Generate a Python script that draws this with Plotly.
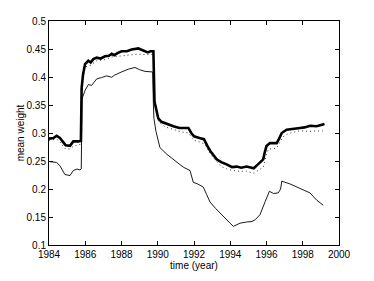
import plotly.graph_objs as go

# thick solid series
t_thick = [1984.0, 1984.25, 1984.42, 1984.6, 1984.75, 1984.92, 1985.16, 1985.34, 1985.62, 1985.76,
           1985.80, 1985.88, 1985.99, 1986.17, 1986.3, 1986.45, 1986.63, 1986.85, 1987.09, 1987.3,
           1987.46, 1987.6, 1987.8, 1988.01, 1988.3, 1988.56, 1988.93, 1989.2, 1989.45, 1989.6,
           1989.76, 1989.82, 1990.03, 1990.2, 1990.4, 1990.6, 1990.86, 1991.2, 1991.5, 1991.69,
           1991.85, 1992.0, 1992.3, 1992.55, 1992.75, 1992.9, 1993.25, 1993.5, 1993.8, 1994.1,
           1994.36, 1994.6, 1994.9, 1995.1, 1995.3, 1995.5, 1995.82, 1995.9, 1996.0, 1996.19,
           1996.56, 1996.7, 1996.84, 1997.11, 1997.5, 1997.85, 1998.1, 1998.4, 1998.77, 1999.1,
           1999.2]
v_thick = [0.290, 0.291, 0.295, 0.291, 0.285, 0.278, 0.277, 0.285, 0.285, 0.286,
           0.380, 0.405, 0.423, 0.429, 0.426, 0.432, 0.4345, 0.433, 0.437, 0.438,
           0.4415, 0.439, 0.443, 0.446, 0.446, 0.449, 0.451, 0.447, 0.444, 0.446,
           0.446, 0.356, 0.326, 0.320, 0.3175, 0.315, 0.312, 0.309, 0.309, 0.309,
           0.300, 0.294, 0.291, 0.289, 0.276, 0.268, 0.253, 0.248, 0.244, 0.239,
           0.240, 0.238, 0.240, 0.238, 0.237, 0.243, 0.253, 0.265, 0.277, 0.282,
           0.282, 0.290, 0.300, 0.306, 0.307, 0.309, 0.310, 0.313, 0.312, 0.3146,
           0.316]

# dotted series
t_dot = [1984.0, 1984.42, 1984.6, 1984.92, 1985.16, 1985.34, 1985.62, 1985.76,
         1985.80, 1985.88, 1985.99, 1986.3, 1986.63, 1987.09, 1987.46, 1988.0, 1988.56, 1988.93,
         1989.3, 1989.76, 1989.84, 1990.05, 1990.4, 1990.86, 1991.3, 1991.69, 1992.0, 1992.3,
         1992.6, 1992.9, 1993.2, 1993.5, 1993.8, 1994.1, 1994.54, 1994.9, 1995.27, 1995.5,
         1995.82, 1996.0, 1996.1, 1996.56, 1996.9, 1997.2, 1997.85, 1998.4, 1998.8, 1999.1]
v_dot = [0.287, 0.289, 0.284, 0.271, 0.272, 0.276, 0.279, 0.280,
         0.372, 0.398, 0.418, 0.421, 0.429, 0.431, 0.4357, 0.438, 0.440, 0.441,
         0.440, 0.440, 0.350, 0.320, 0.311, 0.306, 0.302, 0.300, 0.287, 0.284,
         0.280, 0.262, 0.250, 0.240, 0.236, 0.233, 0.2316, 0.232, 0.228, 0.232,
         0.2386, 0.262, 0.271, 0.273, 0.293, 0.299, 0.304, 0.303, 0.304, 0.304]

# thin solid series
t_thin = [1984.0, 1984.42, 1984.6, 1984.88, 1985.16, 1985.34, 1985.55, 1985.71, 1985.78,
          1985.80, 1985.82, 1985.99, 1986.17, 1986.35, 1986.63, 1986.9, 1987.18, 1987.46, 1987.6,
          1988.0, 1988.38, 1988.74, 1989.0, 1989.3, 1989.66, 1989.72, 1989.76, 1989.79, 1989.9,
          1990.12, 1990.5, 1990.86, 1991.2, 1991.41, 1991.78, 1991.96, 1992.2, 1992.51, 1992.7,
          1992.88, 1993.2, 1993.43, 1993.7, 1993.99, 1994.17, 1994.54, 1994.9, 1995.2, 1995.37,
          1995.64, 1995.92, 1996.16, 1996.38, 1996.65, 1996.78, 1996.84, 1997.3, 1997.85, 1998.1,
          1998.4, 1998.77, 1999.13]
v_thin = [0.249, 0.2474, 0.2416, 0.2258, 0.224, 0.233, 0.2356, 0.234, 0.236,
          0.345, 0.361, 0.376, 0.3865, 0.385, 0.3965, 0.399, 0.402, 0.3995, 0.403,
          0.409, 0.414, 0.417, 0.413, 0.410, 0.408, 0.409, 0.350, 0.326, 0.303,
          0.274, 0.262, 0.253, 0.244, 0.239, 0.233, 0.212, 0.209, 0.2035, 0.190,
          0.177, 0.165, 0.157, 0.149, 0.139, 0.1333, 0.139, 0.141, 0.142, 0.145,
          0.154, 0.177, 0.196, 0.192, 0.193, 0.200, 0.214, 0.209, 0.2005, 0.198,
          0.193, 0.180, 0.171]

x_ticks = [1984, 1986, 1988, 1990, 1992, 1994, 1996, 1998, 2000]
y_ticks = [0.1, 0.15, 0.2, 0.25, 0.3, 0.35, 0.4, 0.45, 0.5]
y_labels = ['0.1', '0.15', '0.2', '0.25', '0.3', '0.35', '0.4', '0.45', '0.5']

thin = go.Scatter(x=t_thin, y=v_thin, mode='lines',
                  line=dict(color='black', width=0.9))
dot = go.Scatter(x=t_dot, y=v_dot, mode='lines',
                 line=dict(color='#333333', width=1, dash='1px,3px'))
thick = go.Scatter(x=t_thick, y=v_thick, mode='lines',
                   line=dict(color='black', width=2.6))

axis_style = dict(showline=True, linecolor='black', linewidth=1, mirror='ticks',
                  ticks='inside', ticklen=4, tickcolor='black', showgrid=False,
                  zeroline=False, tickfont=dict(size=10, color='black'))

layout = go.Layout(
    width=374, height=281,
    margin=dict(l=49, r=35, t=21, b=32),
    paper_bgcolor='white', plot_bgcolor='white',
    font=dict(family='Liberation Sans, Arial, sans-serif', size=10, color='black'),
    showlegend=False,
    xaxis=dict(range=[1984, 2000], tickvals=x_ticks,
               title=dict(text='time (year)', standoff=2, font=dict(size=10)),
               **axis_style),
    yaxis=dict(range=[0.1, 0.5], tickvals=y_ticks, ticktext=y_labels,
               title=dict(text='mean weight', standoff=0, font=dict(size=10)),
               **axis_style),
)

fig = go.Figure(data=[thin, dot, thick], layout=layout)
# page body has a default 8px margin; drop it so the figure sits at the corner
fig.write_html("out.html", config={'displayModeBar': False},
               post_script="document.body.style.margin='0';")
